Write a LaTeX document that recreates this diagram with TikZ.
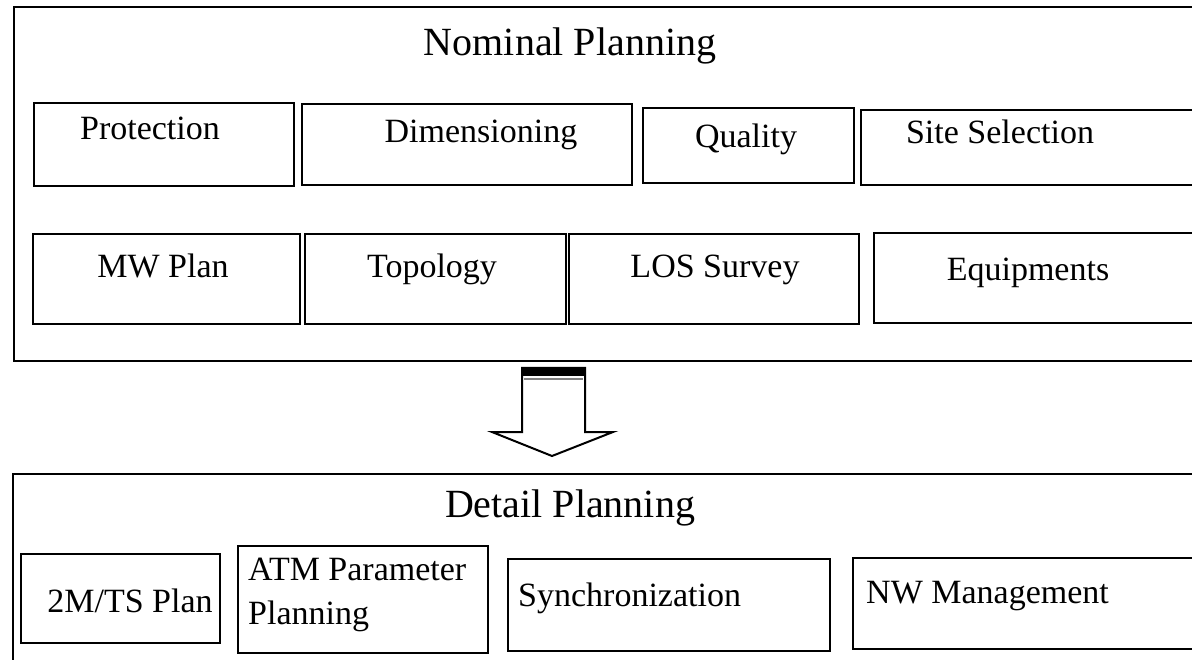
\documentclass[tikz,border=0pt]{standalone}
\usepackage{fontspec}
\setmainfont{Liberation Serif}
\begin{document}
\begin{tikzpicture}[x=1pt,y=-1pt,
  frame/.style={draw=black,line width=1.8pt,fill=none},
  cell/.style={draw=black,line width=2.2pt,fill=none,inner sep=0pt,anchor=north west},
  lbl/.style={font=\fontsize{34}{40}\selectfont,anchor=base,inner sep=0pt},
  lbll/.style={lbl,anchor=base west},
  ttl/.style={font=\fontsize{40}{46}\selectfont,anchor=base,inner sep=0pt}]
\useasboundingbox[fill=white] (0,0) rectangle (1192,660);
\clip (0,0) rectangle (1192,660);

% Nominal planning frame and its cells
\draw[frame] (14,7) rectangle (1210,361);
\node[ttl] (nomt) at (570,56) {Nominal Planning};

\node[cell,minimum width=260pt,minimum height=83pt] (prot) at (33,102) {};
\node[cell,minimum width=330pt,minimum height=81pt] (dim) at (301,103) {};
\node[cell,minimum width=211pt,minimum height=75pt] (qual) at (642,107) {};
\node[cell,minimum width=350pt,minimum height=75pt] (site) at (860,109) {};
\node[lbl] (protl) at (150,140) {Protection};
\node[lbl] (diml) at (481,143) {Dimensioning};
\node[lbl] (quall) at (746,148) {Quality};
\node[lbl] (sitel) at (1000,144) {Site Selection};

\node[cell,minimum width=267pt,minimum height=90pt] (mw) at (32,233) {};
\node[cell,minimum width=261pt,minimum height=90pt] (topo) at (304,233) {};
\node[cell,minimum width=290pt,minimum height=90pt] (los) at (568,233) {};
\node[cell,minimum width=340pt,minimum height=90pt] (equip) at (873,232) {};
\node[lbl] (mwl) at (163,278) {MW Plan};
\node[lbl] (topol) at (432,278) {Topology};
\node[lbl] (losl) at (715,278) {LOS Survey};
\node[lbl] (equipl) at (1028,281) {Equipments};

% Block arrow from nominal to detail planning
\draw[line width=2pt,fill=white,line join=miter]
  (522,368) -- (585,368) -- (585,432) -- (613,432) -- (552,456)
  -- (492,432) -- (522,432) -- cycle;
\fill[black] (522,367) rectangle (585,376);
\draw[gray,line width=1.5pt] (524,379) -- (583,379);

% Detail planning frame and its cells
\draw[frame] (13,474) rectangle (1210,700);
\node[ttl] (dett) at (570,517) {Detail Planning};

\node[cell,minimum width=199pt,minimum height=89pt] (ts) at (20,553) {};
\node[cell,minimum width=250pt,minimum height=107pt] (atm) at (237,545) {};
\node[cell,minimum width=322pt,minimum height=92pt] (sync) at (507,558) {};
\node[cell,minimum width=360pt,minimum height=91pt] (nw) at (852,557) {};
\node[lbl] (tsl) at (130,612) {2M/TS Plan};
\node[lbll] (atml1) at (248,580) {ATM Parameter};
\node[lbll] (atml2) at (248,624) {Planning};
\node[lbll] (syncl) at (518,606) {Synchronization};
\node[lbll] (nwl) at (866,603) {NW Management};
\end{tikzpicture}
\end{document}
